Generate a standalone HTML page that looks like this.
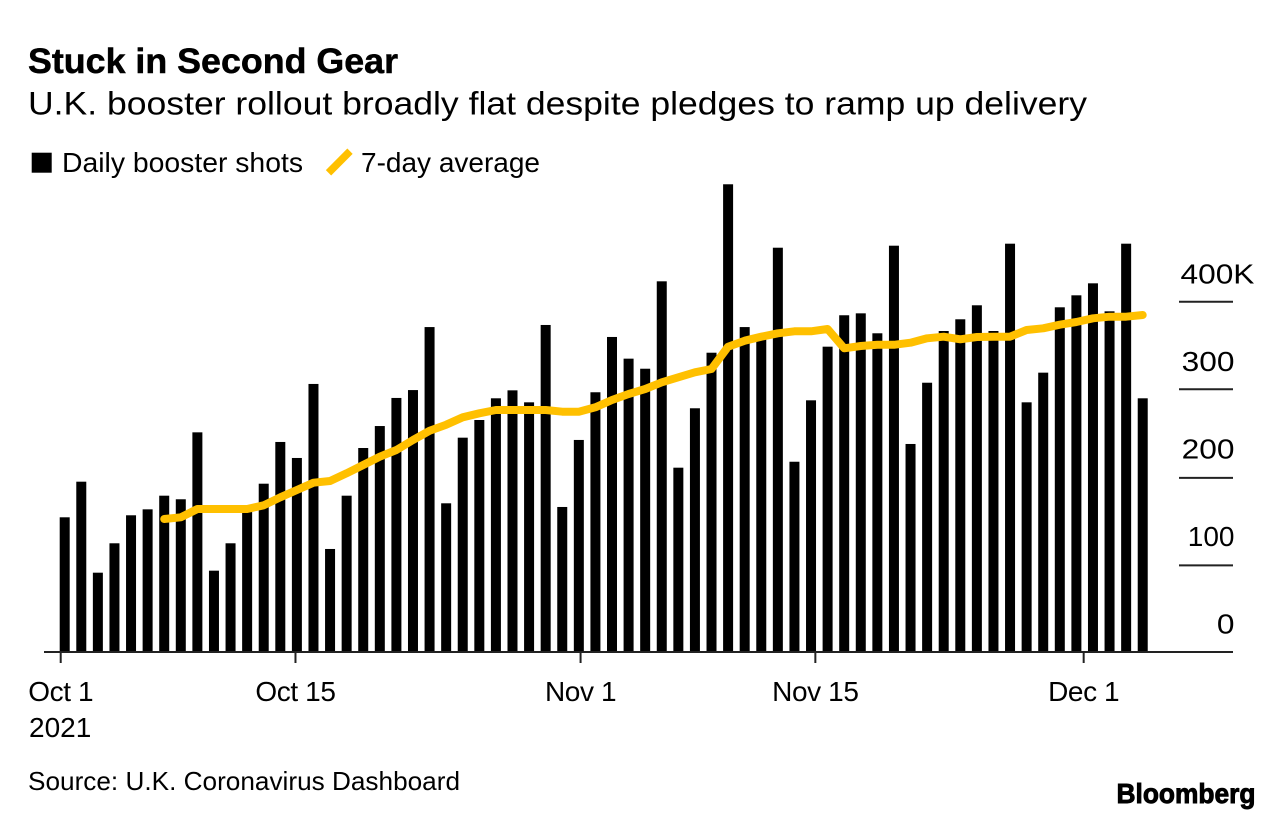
<!DOCTYPE html>
<html lang="en">
<head>
<meta charset="utf-8">
<title>Stuck in Second Gear</title>
<style>
html,body{margin:0;padding:0;background:#fff;}
body{width:1283px;height:820px;overflow:hidden;}
svg{display:block;}
text{font-family:"Liberation Sans",sans-serif;fill:#000;}
</style>
</head>
<body>
<svg id="chart" width="1283" height="820" viewBox="0 0 1283 820" xmlns="http://www.w3.org/2000/svg">
  <text x="28" y="73" font-size="35" font-weight="700" textLength="370" lengthAdjust="spacingAndGlyphs" stroke="#000" stroke-width="0.5">Stuck in Second Gear</text>
  <text x="28" y="114.5" font-size="32" textLength="1059" lengthAdjust="spacingAndGlyphs">U.K. booster rollout broadly flat despite pledges to ramp up delivery</text>

  <rect x="31.7" y="152.7" width="20" height="20" fill="#000"/>
  <text x="62" y="172" font-size="27.5" textLength="241" lengthAdjust="spacingAndGlyphs">Daily booster shots</text>
  <line x1="328.5" y1="172.8" x2="350" y2="151.2" stroke="#ffc000" stroke-width="7.5" stroke-linecap="butt"/>
  <text x="361" y="172" font-size="27.5" textLength="179" lengthAdjust="spacingAndGlyphs">7-day average</text>

  <g id="bars"></g>
  <line x1="44" y1="652" x2="1233" y2="652" stroke="#222" stroke-width="2"/>
  <g id="y-axis"></g>
  <g id="x-axis"></g>
  <path id="avg-line" fill="none" stroke="#ffc000" stroke-width="8" stroke-linecap="round" stroke-linejoin="round"/>

  <text x="29" y="737" font-size="28">2021</text>
  <text x="28" y="790" font-size="26" textLength="432" lengthAdjust="spacingAndGlyphs">Source: U.K. Coronavirus Dashboard</text>
  <text x="1116.5" y="803" font-size="28" font-weight="700" textLength="139" lengthAdjust="spacingAndGlyphs" stroke="#000" stroke-width="0.9">Bloomberg</text>
</svg>
<script>
// Daily booster shots, thousands, one value per day from Oct 1
const dailyShots = [153.6,194.3,90.3,123.9,155.9,162.7,178.3,174.2,250.7,92.6,123.9,162,192,239.7,221.4,306,117.4,178.3,232.8,257.9,290,299,371,169.6,244.6,264.8,289.6,298.7,285,373.4,165.4,242,296.5,359.7,334.9,323.4,423.3,210.3,278.2,341.7,534.2,371,358.5,461.7,217.1,287.3,348.6,384.5,386.7,363.9,464,237.4,307.4,366.5,379.9,395.9,366.5,466.3,285,318.9,393.6,407.3,421,389,466.3,289.6];
// 7-day average, thousands, begins on the seventh day
const averageStartDay = 6;
const sevenDayAverage = [151.7,153.6,163.1,163.1,163.1,163.1,167.3,176.5,184.8,193.1,195.1,203.9,213.4,222.9,230.5,241.9,252.6,259.4,267.9,272.5,276.2,276.2,276.2,276.2,274.3,274.3,279.3,287.7,294.5,300.2,307.9,313.6,319.3,323.1,348.6,355.4,360,363.9,366.2,366.2,368.8,346.7,349.4,350.8,350.8,353.1,358.2,360,357,359.7,360,360,367.7,369.6,373.7,376.8,381,382.9,382.9,384.8];
const yTickValues = [100,200,300,400];
const yTickLabels = [
  {value:0,text:"0"},
  {value:100,text:"100"},
  {value:200,text:"200"},
  {value:300,text:"300"},
  {value:400,text:"400K"}
];
const xTickDays = [0,14,31,45,61];
const xTickLabels = ["Oct 1","Oct 15","Nov 1","Nov 15","Dec 1"];

const NS = "http://www.w3.org/2000/svg";
const baselineY = 651.7;
const yScale = v => baselineY - v * 0.875;
const barX = i => 64.7 + i * 16.585;
const tickX = d => 60.7 + d * 16.77;

const barsGroup = document.getElementById("bars");
dailyShots.forEach((v, i) => {
  const r = document.createElementNS(NS, "rect");
  
  
  r.setAttribute("x", barX(i) - 5);
  r.setAttribute("y", yScale(v));
  r.setAttribute("width", 10);
  r.setAttribute("height", baselineY - yScale(v));
  r.setAttribute("fill", "#000");
  barsGroup.appendChild(r);
});

const yAxis = document.getElementById("y-axis");
yTickValues.forEach(v => {
  const l = document.createElementNS(NS, "line");
  
  
  l.setAttribute("x1", 1179);
  l.setAttribute("x2", 1233);
  l.setAttribute("y1", yScale(v) + (v < 300 ? 1.2 : 0));
  l.setAttribute("y2", yScale(v) + (v < 300 ? 1.2 : 0));
  l.setAttribute("stroke", "#222");
  l.setAttribute("stroke-width", 2);
  yAxis.appendChild(l);
});
yTickLabels.forEach(t => {
  const e = document.createElementNS(NS, "text");
  
  
  e.setAttribute("y", yScale(t.value) - 18);
  e.setAttribute("font-size", 28);
  e.textContent = t.text;
  if (t.text.length < 4) {
    e.setAttribute("x", 1234.5);
    e.setAttribute("text-anchor", "end");
  } else {
    e.setAttribute("x", 1180.5);
  }
  yAxis.appendChild(e);
  if (t.text[0] !== "1") {
    e.setAttribute("textLength", (e.getComputedTextLength() * 1.13).toFixed(1));
    e.setAttribute("lengthAdjust", "spacingAndGlyphs");
  }
});

const xAxis = document.getElementById("x-axis");
xTickDays.forEach((d, i) => {
  const l = document.createElementNS(NS, "line");
  
  
  l.setAttribute("x1", tickX(d));
  l.setAttribute("x2", tickX(d));
  l.setAttribute("y1", 652);
  l.setAttribute("y2", 663);
  l.setAttribute("stroke", "#222");
  l.setAttribute("stroke-width", 2);
  xAxis.appendChild(l);
  const t = document.createElementNS(NS, "text");
  
  
  t.setAttribute("x", tickX(d));
  t.setAttribute("y", 701);
  t.setAttribute("font-size", 28);
  t.setAttribute("letter-spacing", "-0.4");
  t.setAttribute("text-anchor", "middle");
  t.textContent = xTickLabels[i];
  xAxis.appendChild(t);
});

document.getElementById("avg-line").setAttribute("d",
  sevenDayAverage.map((v, i) => (i ? "L" : "M") + barX(i + averageStartDay).toFixed(1) + " " + yScale(v).toFixed(1)).join(" "));
</script>
</body>
</html>
